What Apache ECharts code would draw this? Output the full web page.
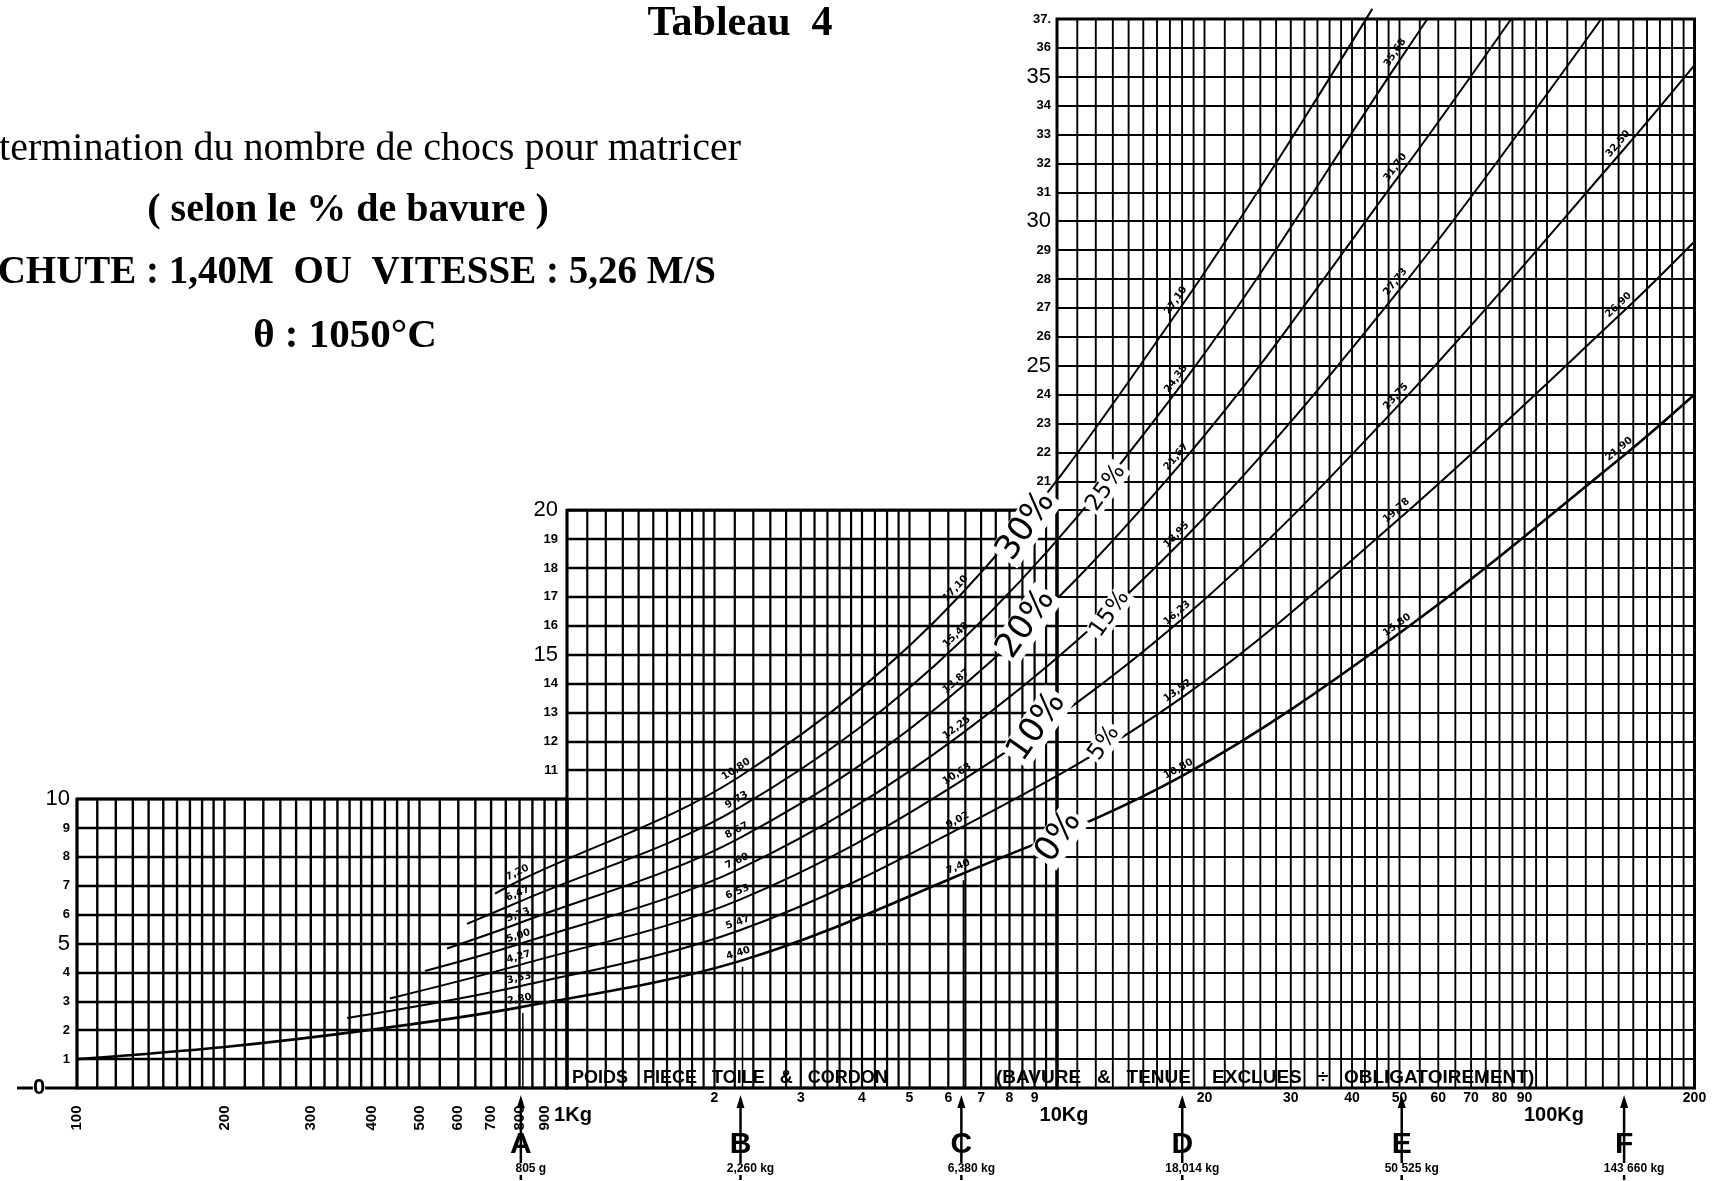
<!DOCTYPE html>
<html lang="fr">
<head>
<meta charset="utf-8">
<title>Tableau 4</title>
<script src="https://cdn.jsdelivr.net/npm/echarts@6.0.0/dist/echarts.min.js"></script>
<style>
  html, body { margin: 0; padding: 0; background: #fff; }
  #chart { width: 1726px; height: 1181px; }
</style>
</head>
<body>
<div id="chart"></div>
<script>
// Tableau 4 : nombre de chocs pour matricer selon le poids de la pièce et le % de bavure

// lignes verticales du quadrillage (poids en g), une liste par panneau
const gridX1 = [100, 110, 120, 130, 140, 150, 160, 170, 180, 190, 200, 220, 240, 260, 280, 300, 320, 340, 360, 380,
  400, 425, 450, 475, 500, 550, 600, 650, 700, 750, 800, 850, 900, 950, 1000];
const gridX2 = [1000, 1100, 1200, 1300, 1400, 1500, 1600, 1700, 1800, 1900, 2000, 2200, 2400, 2600, 2800, 3000, 3200,
  3400, 3600, 3800, 4000, 4250, 4500, 4750, 5000, 5500, 6000, 6500, 7000, 7500, 8000, 8500, 9000, 9500, 10000];
const gridX3 = [10000, 11000, 12000, 13000, 14000, 15000, 16000, 17000, 18000, 19000, 20000, 22000, 24000, 26000,
  28000, 30000, 32000, 34000, 36000, 38000, 40000, 42500, 45000, 47500, 50000, 55000, 60000, 65000, 70000, 75000,
  80000, 85000, 90000, 95000, 100000, 110000, 120000, 130000, 140000, 150000, 160000, 170000, 180000, 190000, 200000];

// graduations de l'axe des poids
const ticksG = [100, 200, 300, 400, 500, 600, 700, 800, 900];
const ticksKg = [2000, 3000, 4000, 5000, 6000, 7000, 8000, 9000];
const ticksKg10 = [20000, 30000, 40000, 50000, 60000, 70000, 80000, 90000, 200000];
const unitTicks = [1000, 10000, 100000];
const unitLabels = ['1Kg', '10Kg', '100Kg'];

// repères A..F
const markerX = [805, 2260, 6380, 18014, 50525, 143660];
const markerNames = ['A', 'B', 'C', 'D', 'E', 'F'];
const markerText = ['805 g', '2,260 kg', '6,380 kg', '18,014 kg', '50 525 kg', '143 660 kg'];

// courbes : [poids en g, nombre de chocs]
const bavure = ['0%', '5%', '10%', '15%', '20%', '25%', '30%'];
const curve0 = [[100, 1.0], [200, 1.42], [400, 2.02], [805, 2.80], [2260, 4.40], [6380, 7.40], [18014, 10.80], [50525, 15.80], [143660, 21.90], [200000, 24.0]];
const curve5 = [[356, 2.42], [805, 3.53], [2260, 5.47], [6380, 9.02], [18014, 13.52], [50525, 19.78], [143660, 26.90], [200000, 29.3]];
const curve10 = [[435, 3.10], [805, 4.27], [2260, 6.53], [6380, 10.63], [18014, 16.23], [50525, 23.75], [143660, 32.50], [200000, 35.4]];
const curve15 = [[513, 4.05], [805, 5.00], [2260, 7.60], [6380, 12.25], [18014, 18.95], [50525, 27.73], [129000, 37.0]];
const curve20 = [[569, 4.83], [805, 5.73], [2260, 8.67], [6380, 13.87], [18014, 21.67], [50525, 31.70], [84500, 37.0]];
const curve25 = [[625, 5.68], [805, 6.47], [2260, 9.73], [6380, 15.48], [18014, 24.38], [50525, 35.68], [57000, 37.0]];
const curve30 = [[713, 6.73], [805, 7.20], [2260, 10.80], [6380, 17.10], [18014, 27.10], [44000, 37.35]];
const curves = [curve0, curve5, curve10, curve15, curve20, curve25, curve30];

// emplacement des étiquettes de % (poids g, chocs)
const pctPos = [[10090, 8.69], [12480, 11.94], [9100, 12.5], [12820, 16.41], [8650, 16.06], [12590, 20.77], [8650, 19.45]];

// mise en page (px)
const L = 77, DEC = 490, BOT = 1088, TOP37 = 19;
const U = (BOT - TOP37) / 37;
const W3 = DEC * Math.log10(20);
const SANS = '"Liberation Sans", Arial, sans-serif';
const SERIF = '"Liberation Serif", "Times New Roman", serif';

const grids = [
  { left: L, top: BOT - 10 * U, width: DEC, height: 10 * U },
  { left: L + DEC, top: BOT - 20 * U, width: DEC, height: 20 * U },
  { left: L + 2 * DEC, top: TOP37, width: W3, height: 37 * U },
  { left: L, top: TOP37, width: 2 * DEC + W3, height: 37 * U }
].map((g, i) => Object.assign({
  show: i < 3, borderColor: '#000', borderWidth: 3, backgroundColor: 'transparent',
  containLabel: false, outerBoundsMode: 'none'
}, g));

const xMin = [100, 1000, 10000, 100];
const xMax = [1000, 10000, 200000, 200000];
const yMax = [10, 20, 37, 37];
const yFrom = [1, 11, 21];

function yLabel(i) {
  return function (v) {
    if (v < yFrom[i]) return '';
    const t = v === 37 ? '37.' : String(v);
    return v % 5 === 0 ? '{b|' + t + '}' : '{s|' + t + '}';
  };
}

function vLines(idx, values, yTop, w) {
  return {
    type: 'custom', xAxisIndex: idx, yAxisIndex: idx, silent: true, z: 2,
    data: values.map(v => [v, 0]),
    renderItem: function (params, api) {
      const a = api.coord([api.value(0), 0]);
      const b = api.coord([api.value(0), yTop]);
      return {
        type: 'line',
        shape: { x1: a[0], y1: a[1], x2: b[0], y2: b[1] },
        style: { stroke: '#000', lineWidth: w }
      };
    }
  };
}

const curveSeries = curves.map((c, i) => ({
  type: 'line', name: bavure[i], xAxisIndex: 3, yAxisIndex: 3, data: c,
  showSymbol: false, symbol: 'none', smooth: 0.35, clip: false, z: 5, silent: true,
  lineStyle: { color: '#000', width: i === 0 ? 2.6 : 2 }
}));

// valeurs écrites sur les courbes aux repères A..F
const curveLabelData = [];
curves.forEach((c, ci) => c.forEach((p, pi) => {
  if (markerX.indexOf(p[0]) >= 0) curveLabelData.push([p[0], p[1], ci, pi]);
}));

const tickData = [];
ticksG.forEach((v, k) => tickData.push([v, 0, 0, k]));
ticksKg.forEach((v, k) => tickData.push([v, 0, 1, k]));
ticksKg10.forEach((v, k) => tickData.push([v, 0, 2, k]));
unitTicks.forEach((v, k) => tickData.push([v, 0, 3, k]));

const markerData = markerX.map((x, i) => {
  const p = curve0.find(q => q[0] === x);
  return [x, i < 3 && p ? p[1] : 0];
});

function txt(x, y, text, font, extra) {
  return Object.assign({
    type: 'text', x: x, y: y,
    style: { text: text, font: font, fill: '#000', align: 'center', verticalAlign: 'middle' }
  }, extra || {});
}

const option = {
  animation: false,
  backgroundColor: '#fff',
  grid: grids,
  xAxis: xMin.map((mn, i) => ({
    gridIndex: i, type: 'log', logBase: 10, min: mn, max: xMax[i],
    axisLine: { show: false }, axisTick: { show: false }, axisLabel: { show: false },
    splitLine: { show: false }, minorTick: { show: false }, minorSplitLine: { show: false }
  })),
  yAxis: yMax.map((mx, i) => ({
    gridIndex: i, type: 'value', min: 0, max: mx, interval: 1,
    axisLine: { show: false }, axisTick: { show: false },
    splitLine: { show: i < 3, lineStyle: { color: '#000', width: i === 2 ? 1.9 : 2.4 } },
    axisLabel: {
      show: i < 3, margin: [7, 9, 6][i] || 6, formatter: yLabel(Math.min(i, 2)),
      rich: {
        s: { fontFamily: 'Liberation Sans', fontWeight: 'bold', fontSize: 13, color: '#000' },
        b: { fontFamily: 'Liberation Sans', fontSize: 22, color: '#000' }
      }
    }
  })),
  graphic: [
    txt(740, 24, 'Tableau  4', 'bold 42px ' + SERIF),
    txt(741, 149, 'Détermination du nombre de chocs pour matricer', '40px ' + SERIF, {}),
    txt(348, 211, '( selon le % de bavure )', 'bold 40px ' + SERIF),
    txt(716, 273, 'HAUTEUR DE CHUTE : 1,40M  OU  VITESSE : 5,26 M/S', 'bold 39px ' + SERIF),
    txt(345, 336, 'θ : 1050°C', 'bold 41px ' + SERIF),
    txt(572, BOT - 10, 'POIDS   PIECE   TOILE   &   CORDON', 'bold 18px ' + SANS),
    txt(996, BOT - 10, '(BAVURE   &   TENUE    EXCLUES   ÷   OBLIGATOIREMENT)', 'bold 19px ' + SANS)
  ].map((g, i) => {
    if (i === 1 || i === 3) g.style.align = 'right';
    if (i >= 5) { g.style.align = 'left'; g.z = 20; }
    return g;
  }),
  series: [
    vLines(0, gridX1, 10, 2.4),
    vLines(1, gridX2, 20, 2.2),
    vLines(2, gridX3, 37, 1.9),
    ...curveSeries,
    {
      // valeurs sur les courbes
      type: 'custom', xAxisIndex: 3, yAxisIndex: 3, silent: true, z: 8, data: curveLabelData,
      renderItem: function (params, api) {
        const c = curves[api.value(2)], pi = api.value(3);
        const p = api.coord([api.value(0), api.value(1)]);
        const a = api.coord(c[Math.max(pi - 1, 0)]);
        const b = api.coord(c[Math.min(pi + 1, c.length - 1)]);
        const ang = Math.atan2(a[1] - b[1], b[0] - a[0]);
        const off = 8;
        return txt(p[0] - Math.sin(ang) * off, p[1] - Math.cos(ang) * off,
          api.value(1).toFixed(2).replace('.', ','), 'bold 10px "DejaVu Sans", sans-serif', { rotation: ang });
      }
    },
    {
      // % de bavure
      type: 'custom', xAxisIndex: 3, yAxisIndex: 3, silent: true, z: 9, data: pctPos,
      renderItem: function (params, api) {
        const i = params.dataIndex;
        const p = api.coord([api.value(0), api.value(1)]);
        const big = i % 2 === 0;
        const el = txt(p[0], p[1], bavure[i], (big ? '34px ' : '23px ') + '"DejaVu Sans", sans-serif',
          { rotation: 55 * Math.PI / 180 });
        el.style.backgroundColor = '#fff';
        el.style.padding = [0, 2];
        return el;
      }
    },
    {
      // graduations de l'axe des poids
      type: 'custom', xAxisIndex: 3, yAxisIndex: 3, silent: true, z: 9, data: tickData,
      renderItem: function (params, api) {
        const p = api.coord([api.value(0), 0]);
        const kind = api.value(2), k = api.value(3);
        if (kind === 0) {
          return txt(p[0], p[1] + 30, String(api.value(0)), 'bold 15px ' + SANS, { rotation: Math.PI / 2 });
        }
        if (kind === 1 || kind === 2) {
          return txt(p[0], p[1] + 10, String(api.value(0) / 1000), 'bold 14px ' + SANS);
        }
        return txt(p[0] + [6, 7, 7][k], p[1] + 27, unitLabels[k], 'bold 20px ' + SANS);
      }
    },
    {
      // repères A..F
      type: 'custom', xAxisIndex: 3, yAxisIndex: 3, silent: true, z: 9, data: markerData,
      renderItem: function (params, api) {
        const i = params.dataIndex;
        const p = api.coord([api.value(0), 0]);
        const x = p[0], y0 = p[1];
        const children = [
          { type: 'line', shape: { x1: x, y1: y0 + 14, x2: x, y2: y0 + 92 }, style: { stroke: '#000', lineWidth: 2.5 } },
          { type: 'polygon', shape: { points: [[x, y0 + 7], [x - 4, y0 + 20], [x + 4, y0 + 20]] }, style: { fill: '#000' } },
          txt(x, y0 + 57, markerNames[i], 'bold 30px ' + SANS),
          txt(x + 10, y0 + 81, markerText[i], 'bold 12px ' + SANS)
        ];
        children[3].style.backgroundColor = '#fff';
        const top = api.value(1);
        if (top > 0) {
          const q = api.coord([api.value(0), top]);
          children.push({ type: 'line', shape: { x1: x + 2, y1: y0, x2: x + 2, y2: q[1] + 6 }, style: { stroke: '#000', lineWidth: 1.5 } });
        }
        return { type: 'group', children: children };
      }
    },
    {
      // "-0-" à gauche de l'origine
      type: 'custom', xAxisIndex: 3, yAxisIndex: 3, silent: true, z: 9, data: [[100, 0]],
      renderItem: function (params, api) {
        const p = api.coord([api.value(0), api.value(1)]);
        const zero = txt(p[0] - 38, p[1], '0', 'bold 22px ' + SANS);
        zero.style.backgroundColor = '#fff';
        return {
          type: 'group', children: [
            { type: 'line', shape: { x1: p[0] - 60, y1: p[1], x2: p[0], y2: p[1] }, style: { stroke: '#000', lineWidth: 3 } },
            zero
          ]
        };
      }
    }
  ]
};

const chart = echarts.init(document.getElementById('chart'));
chart.setOption(option);
window.addEventListener('resize', () => chart.resize());
</script>
</body>
</html>
